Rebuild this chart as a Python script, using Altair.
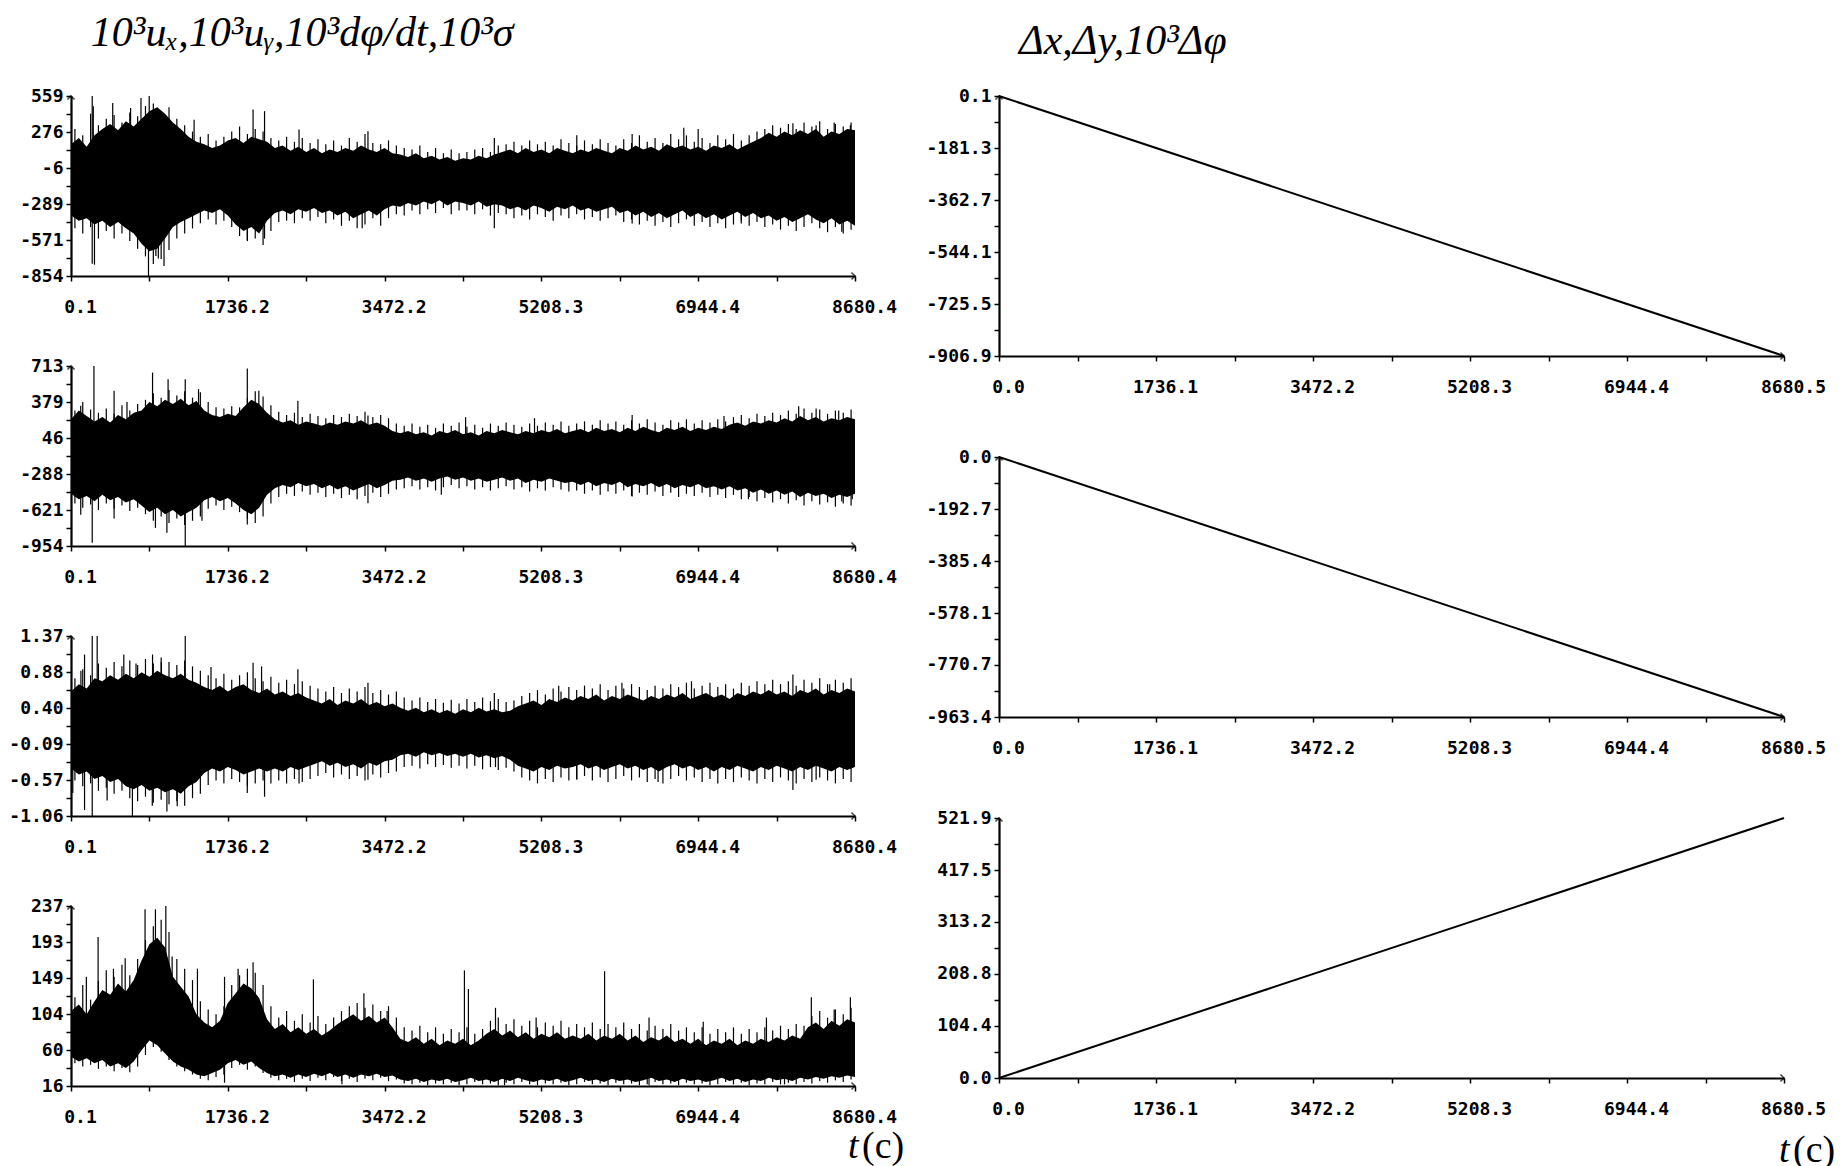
import json
import altair as alt
import pandas as pd

MONO = "DejaVu Sans Mono"
SERIF = "Liberation Serif"

# ---------------- data ----------------
# sampling grid of the envelope readings (seconds)
T = [round(0.1 + i * 86.803, 1) for i in range(101)]
# grid of the hair-like spike tips (half-way between envelope samples)
TS = [round((T[i] + T[i + 1]) / 2, 1) for i in range(100)]

# panel 1: 10^3 u_x  (upper / lower envelope of the dense noisy band)
HI1 = [180, 230, 160, 250, 300, 340, 290, 360, 320, 380, 440, 470, 420, 350, 300, 240, 200, 180, 150, 170,
       210, 230, 190, 240, 220, 200, 150, 170, 130, 160, 120, 150, 110, 140, 120, 150, 130, 170, 140, 120,
       150, 110, 100, 80, 110, 70, 90, 60, 80, 50, 70, 60, 90, 70, 100, 120, 140, 110, 150, 120,
       140, 110, 150, 130, 110, 140, 120, 150, 130, 110, 150, 130, 170, 140, 160, 130, 180, 150, 170, 140,
       160, 130, 170, 150, 180, 140, 170, 200, 230, 270, 240, 280, 250, 290, 260, 300, 240, 280, 260, 300, 290]
LO1 = [-380, -420, -400, -450, -420, -470, -430, -480, -520, -600, -660, -640, -560, -470, -430, -400, -370, -340, -360, -330,
       -380, -450, -500, -470, -520, -420, -360, -340, -370, -330, -350, -320, -360, -340, -380, -350, -400, -370, -340, -380,
       -330, -300, -310, -280, -300, -270, -290, -260, -300, -270, -280, -300, -270, -310, -290, -300, -330, -310, -340, -300,
       -320, -350, -310, -330, -300, -340, -320, -350, -330, -310, -360, -340, -380, -350, -390, -360, -400, -370, -340, -390,
       -360, -400, -370, -410, -380, -350, -390, -360, -400, -380, -420, -390, -430, -400, -370, -410, -440, -400, -450, -420, -460]
# tips of the thin spikes, one above and one below between samples
HT1 = [300, 250, 420, 330, 380, 410, 350, 430, 400, 480, 500, 430, 470, 380, 330, 280, 240, 260, 210, 240,
       280, 320, 260, 300, 280, 230, 210, 240, 200, 230, 190, 220, 180, 210, 170, 230, 200, 260, 190, 180,
       210, 170, 150, 140, 170, 120, 150, 110, 140, 110, 120, 140, 150, 120, 170, 180, 200, 170, 210, 180,
       200, 170, 220, 190, 170, 210, 180, 220, 190, 170, 220, 190, 250, 200, 230, 190, 260, 220, 250, 200,
       230, 190, 250, 220, 260, 210, 250, 280, 300, 330, 310, 340, 300, 350, 320, 360, 300, 340, 320, 350]
LT1 = [-480, -520, -470, -560, -500, -560, -520, -580, -640, -700, -760, -720, -650, -560, -520, -480, -440, -410, -450, -420,
       -470, -540, -580, -560, -610, -500, -430, -420, -440, -400, -420, -390, -440, -410, -460, -420, -480, -450, -400, -460,
       -400, -370, -380, -340, -370, -330, -360, -320, -370, -340, -340, -370, -330, -380, -360, -370, -400, -380, -410, -370,
       -390, -420, -380, -400, -370, -410, -390, -420, -400, -380, -430, -410, -450, -420, -460, -430, -470, -440, -410, -460,
       -430, -470, -440, -480, -450, -420, -460, -430, -470, -450, -490, -460, -500, -470, -440, -480, -510, -470, -520, -490]
UP1 = [(235, 559), (247, 478), (462, 504), (660, 465), (775, 543), (866, 559), (1363, 373), (2016, 454), (2143, 440),
       (2525, 296), (3288, 283), (4687, 230), (5600, 250), (6213, 260), (6785, 309), (6944, 300), (7993, 345),
       (8250, 330), (8450, 350), (8629, 330)]
DN1 = [(235, -757), (260, -765), (858, -854), (940, -697), (967, -717), (1030, -776), (1952, -572), (2143, -560),
       (3224, -480), (4687, -480), (6213, -441), (7421, -441), (8534, -506)]

# panel 2: 10^3 u_y
HI2 = [220, 300, 250, 200, 240, 190, 260, 220, 280, 300, 380, 340, 400, 360, 410, 350, 390, 300, 260, 240,
       270, 250, 330, 400, 360, 280, 220, 190, 210, 170, 200, 180, 160, 190, 170, 200, 180, 210, 170, 190,
       160, 110, 90, 110, 80, 100, 70, 110, 90, 120, 80, 100, 70, 110, 90, 120, 100, 80, 110, 90,
       120, 100, 130, 90, 110, 130, 100, 140, 110, 130, 100, 140, 110, 150, 120, 100, 140, 120, 150, 110,
       140, 120, 150, 130, 170, 190, 160, 200, 180, 210, 190, 230, 200, 250, 210, 240, 200, 230, 210, 240, 220]
LO2 = [-470, -520, -490, -540, -480, -530, -500, -550, -520, -580, -640, -600, -660, -620, -680, -640, -600, -530, -500, -540,
       -510, -560, -620, -660, -600, -480, -420, -390, -410, -370, -400, -380, -420, -390, -430, -400, -440, -410, -380, -420,
       -390, -350, -340, -320, -350, -330, -360, -330, -310, -340, -320, -350, -330, -360, -340, -320, -350, -330, -370, -340,
       -360, -330, -350, -370, -360, -390, -360, -400, -370, -390, -360, -410, -380, -400, -370, -410, -380, -420, -390, -410,
       -380, -420, -400, -430, -400, -440, -420, -460, -430, -470, -440, -480, -450, -500, -460, -490, -470, -510, -480, -500, -470]
HT2 = [300, 380, 310, 280, 320, 270, 350, 300, 360, 400, 460, 420, 490, 440, 480, 420, 470, 380, 330, 320,
       340, 330, 420, 480, 430, 350, 290, 260, 280, 240, 270, 250, 230, 260, 240, 270, 250, 290, 240, 260,
       230, 180, 160, 180, 150, 170, 140, 180, 160, 190, 150, 170, 140, 180, 160, 190, 170, 150, 180, 160,
       190, 170, 200, 160, 180, 200, 170, 210, 180, 200, 170, 210, 180, 220, 190, 170, 210, 190, 220, 180,
       210, 190, 220, 200, 240, 260, 230, 270, 250, 280, 260, 300, 270, 320, 280, 310, 270, 300, 280, 310]
LT2 = [-560, -600, -570, -620, -560, -610, -580, -630, -600, -660, -720, -680, -740, -700, -760, -720, -680, -610, -580, -620,
       -590, -640, -700, -740, -680, -560, -500, -470, -490, -450, -480, -460, -500, -470, -510, -480, -520, -490, -460, -500,
       -470, -430, -420, -400, -430, -410, -440, -410, -390, -420, -400, -430, -410, -440, -420, -400, -430, -410, -450, -420,
       -440, -410, -430, -450, -440, -470, -440, -480, -450, -470, -440, -490, -460, -480, -450, -490, -460, -500, -470, -490,
       -460, -500, -480, -510, -480, -520, -500, -540, -510, -550, -520, -560, -530, -580, -540, -570, -550, -590, -560, -580]
UP2 = [(108, 346), (254, 713), (477, 484), (620, 380), (903, 652), (1075, 591), (1265, 591), (1412, 499),
       (1952, 689), (2080, 484), (2512, 392), (3288, 254), (4369, 239), (5132, 230), (6213, 260), (7230, 250),
       (8057, 340), (8250, 320), (8500, 300)]
DN2 = [(108, -664), (235, -924), (477, -700), (935, -786), (1062, -832), (1265, -954), (1450, -720), (1952, -755),
       (3288, -557), (4100, -480), (6213, -495), (7500, -520), (8534, -541), (8650, -520)]

# panel 3: 10^3 dphi/dt
HI3 = [0.62, 0.72, 0.66, 0.80, 0.76, 0.84, 0.78, 0.86, 0.80, 0.88, 0.82, 0.90, 0.84, 0.80, 0.86, 0.78, 0.74, 0.68, 0.64, 0.70,
       0.62, 0.68, 0.72, 0.64, 0.60, 0.66, 0.58, 0.62, 0.56, 0.60, 0.54, 0.50, 0.46, 0.52, 0.44, 0.50, 0.46, 0.52, 0.44, 0.48,
       0.42, 0.46, 0.40, 0.36, 0.40, 0.34, 0.38, 0.33, 0.37, 0.32, 0.38, 0.34, 0.40, 0.35, 0.38, 0.34, 0.36, 0.42, 0.46, 0.50,
       0.44, 0.52, 0.48, 0.54, 0.50, 0.56, 0.52, 0.58, 0.50, 0.56, 0.52, 0.58, 0.54, 0.50, 0.56, 0.52, 0.58, 0.54, 0.60, 0.52,
       0.56, 0.60, 0.54, 0.58, 0.52, 0.60, 0.56, 0.62, 0.58, 0.64, 0.58, 0.62, 0.56, 0.64, 0.60, 0.66, 0.58, 0.64, 0.60, 0.66, 0.62]
LO3 = [-0.42, -0.50, -0.46, -0.56, -0.52, -0.60, -0.56, -0.66, -0.70, -0.64, -0.72, -0.68, -0.74, -0.70, -0.76, -0.66, -0.60, -0.48, -0.42, -0.46,
       -0.40, -0.44, -0.50, -0.46, -0.42, -0.46, -0.42, -0.46, -0.40, -0.44, -0.40, -0.36, -0.32, -0.38, -0.34, -0.40, -0.36, -0.42, -0.34, -0.38,
       -0.32, -0.30, -0.24, -0.22, -0.26, -0.20, -0.24, -0.21, -0.25, -0.22, -0.26, -0.22, -0.27, -0.24, -0.28, -0.25, -0.30, -0.38, -0.42, -0.46,
       -0.40, -0.44, -0.38, -0.42, -0.40, -0.36, -0.42, -0.38, -0.44, -0.40, -0.36, -0.42, -0.38, -0.44, -0.40, -0.46, -0.40, -0.36, -0.42, -0.38,
       -0.44, -0.40, -0.46, -0.40, -0.44, -0.38, -0.42, -0.46, -0.40, -0.44, -0.38, -0.42, -0.46, -0.40, -0.44, -0.38, -0.42, -0.46, -0.40, -0.44, -0.40]
HT3 = [0.80, 0.92, 0.84, 1.00, 0.94, 1.02, 0.96, 1.04, 0.98, 1.06, 1.00, 1.08, 1.02, 0.98, 1.04, 0.96, 0.90, 0.84, 0.80, 0.86,
       0.78, 0.84, 0.88, 0.80, 0.76, 0.82, 0.74, 0.78, 0.72, 0.76, 0.70, 0.66, 0.62, 0.68, 0.60, 0.66, 0.62, 0.68, 0.60, 0.64,
       0.58, 0.62, 0.54, 0.50, 0.54, 0.48, 0.52, 0.47, 0.51, 0.46, 0.52, 0.48, 0.54, 0.49, 0.52, 0.48, 0.50, 0.56, 0.60, 0.64,
       0.58, 0.66, 0.62, 0.68, 0.64, 0.70, 0.66, 0.72, 0.64, 0.70, 0.66, 0.72, 0.68, 0.64, 0.70, 0.66, 0.72, 0.68, 0.74, 0.66,
       0.70, 0.74, 0.68, 0.72, 0.66, 0.74, 0.70, 0.76, 0.72, 0.78, 0.72, 0.76, 0.70, 0.78, 0.74, 0.80, 0.72, 0.78, 0.74, 0.80]
LT3 = [-0.58, -0.66, -0.62, -0.72, -0.68, -0.76, -0.72, -0.82, -0.86, -0.80, -0.88, -0.84, -0.90, -0.86, -0.92, -0.82, -0.76, -0.64, -0.58, -0.62,
       -0.56, -0.60, -0.66, -0.62, -0.58, -0.62, -0.58, -0.62, -0.56, -0.60, -0.56, -0.52, -0.48, -0.54, -0.50, -0.56, -0.52, -0.58, -0.50, -0.54,
       -0.48, -0.46, -0.40, -0.38, -0.42, -0.36, -0.40, -0.37, -0.41, -0.38, -0.42, -0.38, -0.43, -0.40, -0.44, -0.41, -0.46, -0.54, -0.58, -0.62,
       -0.56, -0.60, -0.54, -0.58, -0.56, -0.52, -0.58, -0.54, -0.60, -0.56, -0.52, -0.58, -0.54, -0.60, -0.56, -0.62, -0.56, -0.52, -0.58, -0.54,
       -0.60, -0.56, -0.62, -0.56, -0.60, -0.54, -0.58, -0.62, -0.56, -0.60, -0.54, -0.58, -0.62, -0.56, -0.60, -0.54, -0.58, -0.62, -0.56, -0.60]
UP3 = [(110, 0.90), (150, 1.12), (235, 1.37), (290, 1.37), (585, 1.12), (720, 1.00), (903, 1.12), (1000, 1.02),
       (1265, 1.37), (1550, 0.95), (2016, 1.01), (2110, 0.96), (2512, 0.92), (3288, 0.74), (4687, 0.60),
       (5400, 0.70), (6100, 0.74), (6870, 0.76), (7993, 0.85), (8400, 0.72)]
DN3 = [(20, -0.75), (150, -0.98), (235, -1.06), (400, -0.85), (680, -1.06), (900, -0.92), (1062, -1.00), (1176, -0.93),
       (1952, -0.75), (2143, -0.80), (2525, -0.62), (3288, -0.57), (4700, -0.40), (5600, -0.57), (6500, -0.60),
       (7993, -0.71), (8250, -0.57)]

# panel 4: 10^3 sigma
HI4 = [108, 116, 104, 120, 134, 128, 142, 132, 146, 170, 190, 198, 186, 150, 138, 126, 104, 94, 88, 96,
       118, 130, 142, 136, 124, 98, 86, 92, 82, 88, 80, 86, 78, 84, 92, 98, 104, 96, 102, 94,
       100, 88, 74, 70, 76, 68, 74, 66, 72, 68, 74, 66, 72, 80, 86, 78, 84, 76, 82, 74,
       80, 76, 82, 74, 78, 74, 80, 72, 78, 74, 80, 72, 78, 70, 76, 72, 78, 70, 74, 68,
       74, 66, 72, 68, 74, 66, 72, 68, 74, 70, 76, 72, 78, 74, 88, 94, 86, 96, 90, 98, 94]
LO4 = [52, 46, 50, 44, 48, 40, 44, 38, 46, 60, 72, 66, 56, 46, 40, 36, 30, 28, 32, 36,
       44, 48, 42, 46, 38, 32, 28, 30, 26, 30, 27, 31, 28, 32, 27, 30, 26, 30, 28, 31,
       27, 29, 24, 22, 25, 21, 24, 22, 25, 21, 23, 26, 22, 24, 21, 25, 22, 26, 23, 21,
       24, 22, 25, 21, 23, 26, 22, 24, 21, 25, 22, 24, 21, 23, 26, 22, 24, 21, 25, 22,
       24, 21, 23, 26, 22, 25, 21, 24, 22, 26, 23, 25, 22, 26, 24, 27, 25, 28, 26, 29, 27]
HT4 = [125, 140, 122, 145, 158, 150, 165, 152, 172, 195, 212, 220, 205, 172, 160, 146, 120, 110, 104, 114,
       140, 152, 160, 155, 140, 114, 100, 108, 96, 104, 94, 102, 92, 100, 108, 114, 118, 112, 116, 108,
       114, 100, 88, 84, 90, 82, 88, 80, 86, 82, 88, 80, 86, 96, 100, 92, 98, 90, 96, 88,
       94, 90, 96, 88, 92, 88, 94, 86, 92, 88, 94, 86, 92, 84, 90, 86, 92, 84, 88, 82,
       88, 80, 86, 82, 88, 80, 86, 82, 88, 84, 90, 86, 92, 90, 102, 108, 100, 110, 104, 112]
LT4 = [44, 40, 42, 37, 40, 34, 38, 33, 40, 54, 64, 58, 48, 40, 34, 30, 25, 23, 27, 30,
       38, 42, 36, 40, 32, 26, 23, 25, 21, 25, 22, 26, 23, 27, 22, 25, 21, 25, 23, 26,
       22, 24, 19, 18, 20, 17, 19, 18, 20, 17, 18, 21, 18, 19, 17, 20, 18, 21, 18, 17,
       19, 18, 20, 17, 18, 21, 18, 19, 17, 20, 18, 19, 17, 18, 21, 18, 19, 17, 20, 18,
       19, 17, 18, 21, 18, 20, 17, 19, 18, 21, 18, 20, 18, 21, 19, 22, 20, 23, 21, 24]
UP4 = [(170, 150), (300, 199), (470, 160), (600, 173), (820, 233), (935, 233), (1050, 237), (1120, 175), (1400, 160),
       (1700, 150), (1850, 160), (2016, 168), (2684, 147), (3243, 130), (3500, 108), (4356, 158), (4400, 135),
       (4700, 112), (5150, 100), (5908, 157), (6400, 100), (7000, 95), (7700, 100), (8197, 125), (8450, 110), (8629, 125)]
DN4 = [(1700, 20), (3000, 18), (4800, 17), (6400, 17), (7900, 18)]

# right column: displacements (start and end of each straight run)
RT = [0.0, 8680.5]
DX = [0.1, -906.9]
DY = [0.0, -963.4]
DPHI = [0.0, 521.9]

# axis tick labels
XL_LEFT = [0.1, 1736.2, 3472.2, 5208.3, 6944.4, 8680.4]
XL_LEFT_TXT = ["0.1", "1736.2", "3472.2", "5208.3", "6944.4", "8680.4"]
XL_RIGHT = [0.0, 1736.1, 3472.2, 5208.3, 6944.4, 8680.5]
XL_RIGHT_TXT = ["0.0", "1736.1", "3472.2", "5208.3", "6944.4", "8680.5"]

Y1 = [-854, -571.4, -288.8, -6.2, 276.4, 559]
Y1_TXT = ["-854", "-571", "-289", "-6", "276", "559"]
Y2 = [-954, -620.6, -287.2, 46.2, 379.6, 713]
Y2_TXT = ["-954", "-621", "-288", "46", "379", "713"]
Y3 = [-1.06, -0.574, -0.088, 0.398, 0.884, 1.37]
Y3_TXT = ["-1.06", "-0.57", "-0.09", "0.40", "0.88", "1.37"]
Y4 = [16, 60.2, 104.4, 148.6, 192.8, 237]
Y4_TXT = ["16", "60", "104", "149", "193", "237"]

R1 = [-906.9, -725.5, -544.1, -362.7, -181.3, 0.1]
R1_TXT = ["-906.9", "-725.5", "-544.1", "-362.7", "-181.3", "0.1"]
R2 = [-963.4, -770.7, -578.1, -385.4, -192.7, 0.0]
R2_TXT = ["-963.4", "-770.7", "-578.1", "-385.4", "-192.7", "0.0"]
R3 = [0.0, 104.4, 208.8, 313.2, 417.5, 521.9]
R3_TXT = ["0.0", "104.4", "208.8", "313.2", "417.5", "521.9"]

TITLE_LEFT = "10³uₓ,10³uᵧ,10³dφ/dt,10³σ"
TITLE_RIGHT = "Δx,Δy,10³Δφ"

# ---------------- helpers ----------------
LW, LH = 784, 180
RW, RH = 785, 260


def with_minor(vals):
    out = []
    for a, b in zip(vals[:-1], vals[1:]):
        out += [a, round((a + b) / 2, 4)]
    out.append(vals[-1])
    return out


def label_expr(vals, txt):
    v = json.dumps(vals)
    t = json.dumps(txt)
    return f"indexof({v}, datum.value) < 0 ? '' : {t}[indexof({v}, datum.value)]"


def make_axis(vals, txt, pad, offset=0):
    return alt.Axis(values=with_minor(vals), tickCount=100, labelExpr=label_expr(vals, txt), title=None,
                    domainColor="black", domainWidth=2.2, tickColor="black", tickWidth=1.5,
                    tickSize=5, labelFont=MONO, labelFontSize=18, labelFontWeight="bold",
                    labelColor="black", labelPadding=pad, labelOffset=offset,
                    labelOverlap=False, labelFlush=False, grid=False)


def arrows(xmin, xmax, ymin, ymax):
    one = pd.DataFrame({"a": [0]})
    ax = alt.Chart(one).mark_point(shape="M-1,-1L0,0L-1,1", filled=False, stroke="black",
                                   strokeWidth=1.6, size=50).encode(
        x=alt.datum(xmax), y=alt.datum(ymin))
    ay = alt.Chart(one).mark_point(shape="M-1,1L0,0L1,1", filled=False, stroke="black",
                                   strokeWidth=1.6, size=50).encode(
        x=alt.datum(xmin), y=alt.datum(ymax))
    return [ax, ay]


def spacer(top):
    # tiny white dot that lifts the bounding box of a panel
    one = pd.DataFrame({"a": [0]})
    return alt.Chart(one).mark_text(text=".", fontSize=2, color="white", align="left",
                                    baseline="top").encode(
        x=alt.value(2), y=alt.value(top))


def mid_at(t, hi, lo):
    i = min(max(int(round((t - T[0]) / 86.803)), 0), 100)
    return (hi[i] + lo[i]) / 2


def left_panel(hi, lo, ht, lt, up, dn, yv, yt, extra=None):
    xs = alt.Scale(domain=[XL_LEFT[0], XL_LEFT[-1]], nice=False, zero=False)
    ys = alt.Scale(domain=[yv[0], yv[-1]], nice=False, zero=False)
    xa = make_axis(XL_LEFT, XL_LEFT_TXT, 17, 9)
    ya = make_axis(yv, yt, 3)
    band = pd.DataFrame({"t": T, "hi": hi, "lo": lo})
    area = alt.Chart(band).mark_area(color="black", opacity=1, interpolate="linear").encode(
        x=alt.X("t:Q", scale=xs, axis=xa),
        y=alt.Y("hi:Q", scale=ys, axis=ya),
        y2="lo:Q")
    ts, vs, bs = [], [], []
    for i in range(100):
        base = (hi[i] + hi[i + 1] + lo[i] + lo[i + 1]) / 4
        ts += [TS[i], TS[i]]
        vs += [ht[i], lt[i]]
        bs += [base, base]
    for (t, v) in up + dn:
        ts.append(t)
        vs.append(v)
        bs.append(mid_at(t, hi, lo))
    sp = pd.DataFrame({"t": ts, "v": vs, "b": bs})
    spikes = alt.Chart(sp).mark_rule(color="black", strokeWidth=1.2).encode(
        x=alt.X("t:Q", scale=xs, axis=xa), y=alt.Y("v:Q", scale=ys, axis=ya), y2="b:Q")
    layers = [area, spikes] + arrows(XL_LEFT[0], XL_LEFT[-1], yv[0], yv[-1])
    if extra:
        layers += extra
    return alt.layer(*layers).properties(width=LW, height=LH)


def right_panel(yvals, yv, yt, extra=None):
    xs = alt.Scale(domain=[XL_RIGHT[0], XL_RIGHT[-1]], nice=False, zero=False)
    ys = alt.Scale(domain=[yv[0], yv[-1]], nice=False, zero=False)
    df = pd.DataFrame({"t": RT, "v": yvals})
    line = alt.Chart(df).mark_line(color="black", strokeWidth=2).encode(
        x=alt.X("t:Q", scale=xs, axis=make_axis(XL_RIGHT, XL_RIGHT_TXT, 17, 9)),
        y=alt.Y("v:Q", scale=ys, axis=make_axis(yv, yt, 3)))
    layers = [line] + arrows(XL_RIGHT[0], XL_RIGHT[-1], yv[0], yv[-1])
    if extra:
        layers += extra
    return alt.layer(*layers).properties(width=RW, height=RH)


def tc_label(x0, y0):
    one = pd.DataFrame({"a": [0]})
    t = alt.Chart(one).mark_text(text="t", font=SERIF, fontSize=38, fontStyle="italic",
                                 align="left", baseline="alphabetic", color="black").encode(
        x=alt.value(x0), y=alt.value(y0))
    c = alt.Chart(one).mark_text(text="(c)", font=SERIF, fontSize=38, align="left",
                                 baseline="alphabetic", color="black").encode(
        x=alt.value(x0 + 14), y=alt.value(y0))
    return [t, c]


p1 = left_panel(HI1, LO1, HT1, LT1, UP1, DN1, Y1, Y1_TXT, extra=[spacer(-17)])
p2 = left_panel(HI2, LO2, HT2, LT2, UP2, DN2, Y2, Y2_TXT)
p3 = left_panel(HI3, LO3, HT3, LT3, UP3, DN3, Y3, Y3_TXT)
p4 = left_panel(HI4, LO4, HT4, LT4, UP4, DN4, Y4, Y4_TXT, extra=tc_label(777, LH + 72))

r1 = right_panel(DX, R1, R1_TXT)
r2 = right_panel(DY, R2, R2_TXT)
r3 = right_panel(DPHI, R3, R3_TXT, extra=tc_label(780, RH + 84))

left = alt.vconcat(p1, p2, p3, p4, spacing=41).properties(
    title=alt.TitleParams(TITLE_LEFT, anchor="start", font=SERIF, fontSize=42, fontStyle="italic",
                          fontWeight="normal", color="black", dx=82, offset=24))
right = alt.vconcat(r1, r2, r3, spacing=52).properties(
    title=alt.TitleParams(TITLE_RIGHT, anchor="start", font=SERIF, fontSize=42, fontStyle="italic",
                          fontWeight="normal", color="black", dx=93, offset=24))

chart = alt.hconcat(left, right, spacing=20).properties(
    padding={"left": 8, "top": 12, "right": 0, "bottom": 0}, background="white"
).configure_view(stroke=None).configure_axis(labelOverlap=False)

chart.save("out.html", embed_options={"renderer": "svg", "actions": False})
